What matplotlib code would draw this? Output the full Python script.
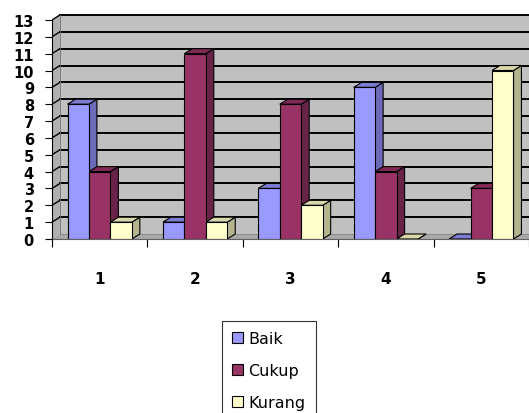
import numpy as np
import matplotlib
matplotlib.use("Agg")
import matplotlib.pyplot as plt
from matplotlib.patches import Polygon

categories = ["1", "2", "3", "4", "5"]
series = ["Baik", "Cukup", "Kurang"]
baik = [8, 1, 3, 9, 0]
cukup = [4, 11, 8, 4, 3]
kurang = [1, 1, 2, 0, 10]

front = ["#9999FF", "#993366", "#FFFFCC"]
side = ["#6B6BB8", "#6A2348", "#B3B38C"]
top = ["#7C7CD0", "#7E2A55", "#D8D8AA"]

W, H = 529, 414
fig = plt.figure(figsize=(W / 100, H / 100), dpi=100)
ymax = 13
px_per_unit = 16.85
ax_h = 13.5 * px_per_unit
ax = fig.add_axes([52 / W, 1 - 240 / H, 1 - 52 / W, ax_h / H])
xmax = (W - 52) / 96
ax.set_xlim(0, xmax)
ax.set_ylim(0, 13.5)

dx = 8 / 96
dy = 5 / px_per_unit

# walls and floor
ax.add_patch(Polygon([(dx, dy), (xmax + 1, dy), (xmax + 1, ymax + dy), (dx, ymax + dy)],
                     closed=True, facecolor="#C0C0C0", edgecolor="none", zorder=0))
ax.add_patch(Polygon([(0, 0), (dx, dy), (dx, ymax + dy), (0, ymax)],
                     closed=True, facecolor="#B0B0B0", edgecolor="none", zorder=0))
ax.add_patch(Polygon([(0, 0), (xmax + 1, 0), (xmax + 1, dy), (dx, dy)],
                     closed=True, facecolor="#A8A8A8", edgecolor="#808080", lw=0.6, zorder=0.5))
for k in range(1, ymax + 1):
    ax.plot([dx, xmax + 1], [k + dy, k + dy], color="black", lw=1.4, zorder=0.6, clip_on=True)
    ax.plot([0, dx], [k, k + dy], color="black", lw=1.0, zorder=0.6)
ax.plot([dx, dx], [dy, ymax + dy], color="#707070", lw=0.6, zorder=0.6)

# bars with 3d faces
values = [baik, cukup, kurang]
bw = 0.225
x = np.arange(len(categories)) + 0.5
for j, vals in enumerate(values):
    xs = x + (j - 1) * bw - bw / 2
    ax.bar(xs, vals, width=bw, align="edge", color=front[j], edgecolor="black",
           lw=0.8, zorder=3 + j * 0.01, label=series[j])
    for xi, h in zip(xs, vals):
        ax.add_patch(Polygon([(xi + bw, 0), (xi + bw, h), (xi + bw + dx, h + dy), (xi + bw + dx, dy)],
                             closed=True, facecolor=side[j], edgecolor="black", lw=0.8, zorder=2.9))
        ax.add_patch(Polygon([(xi, h), (xi + bw, h), (xi + bw + dx, h + dy), (xi + dx, h + dy)],
                             closed=True, facecolor=top[j], edgecolor="black", lw=0.8, zorder=2.9))

for s in ["top", "right"]:
    ax.spines[s].set_visible(False)
ax.spines["left"].set_bounds(0, ymax)
ax.spines["left"].set_zorder(5)
ax.spines["bottom"].set_color("#606060")

ax.set_yticks(range(0, ymax + 1))
ax.tick_params(axis="y", direction="out", length=5, pad=8, labelsize=10.5)
for t in ax.get_yticklabels():
    t.set_fontweight("bold")
ax.set_xticks(np.arange(0, len(categories) + 1))
ax.set_xticklabels([])
ax.set_xticks(x, minor=True)
ax.set_xticklabels(categories, minor=True, fontweight="bold")
ax.tick_params(axis="x", which="major", direction="out", length=6)
ax.tick_params(axis="x", which="minor", length=0, pad=23, labelsize=11)

leg = fig.legend(loc="upper left", bbox_to_anchor=(222 / W, 1 - 322 / H),
                 fontsize=11.5, frameon=True, fancybox=False, edgecolor="black",
                 handlelength=0.65, handleheight=0.65, handletextpad=0.35,
                 labelspacing=1.06, borderpad=0.65, borderaxespad=0)
leg.get_frame().set_linewidth(0.8)

fig.savefig("out.png", dpi=100)
